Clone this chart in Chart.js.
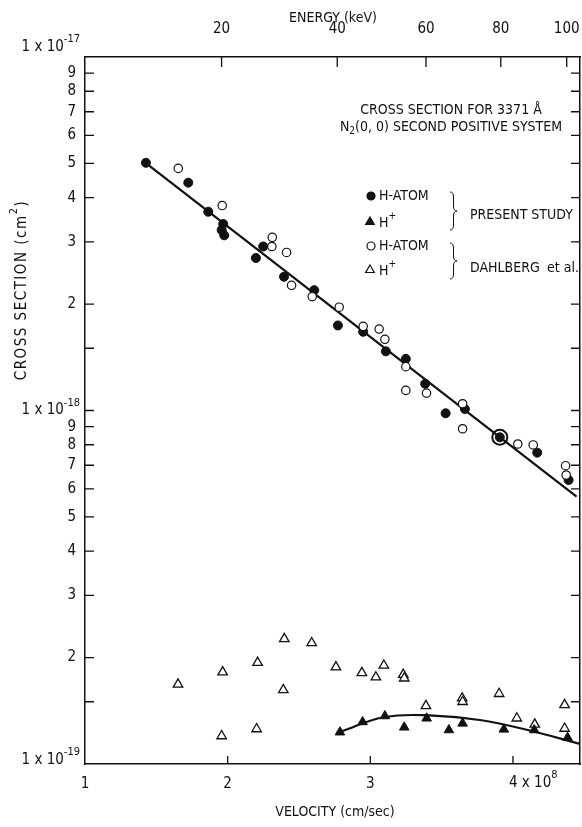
<!DOCTYPE html>
<html>
<head>
<meta charset="utf-8">
<script src="https://cdn.jsdelivr.net/npm/chart.js@4.4.0/dist/chart.umd.min.js"></script>
<style>
  html, body { margin: 0; padding: 0; background: #fff; }
  #wrap { width: 582px; height: 827px; position: relative; }
</style>
</head>
<body>
<div id="wrap"><canvas id="crossSectionChart"></canvas></div>
<script>
// velocity in units of 1e8 cm/sec, cross section in units of 1e-18 cm^2

// H-atom, present study (filled circles)
const hAtomPresentV = [1.427, 1.724, 1.864, 1.969, 1.958, 1.976, 2.249, 2.198, 2.395, 2.607,
                       2.773, 2.950, 3.109, 3.249, 3.385, 3.528, 3.663, 3.908, 4.170, 4.390];
const hAtomPresentSigma = [5.02, 4.41, 3.65, 3.37, 3.24, 3.13, 2.91, 2.70, 2.39, 2.19,
                           1.74, 1.67, 1.47, 1.40, 1.19, 0.982, 1.01, 0.840, 0.760, 0.636];

// H+, present study (filled triangles)
const hPlusPresentV = [2.787, 2.946, 3.102, 3.238, 3.395, 3.551, 3.647, 3.936, 4.149, 4.383];
const hPlusPresentSigma = [0.123, 0.1315, 0.1367, 0.127, 0.1347, 0.1248, 0.1303, 0.1253, 0.1248, 0.1187];

// H-atom, Dahlberg et al. (open circles)
const hAtomDahlV = [1.654, 1.962, 2.313, 2.310, 2.413, 2.448, 2.593, 2.782, 2.950, 3.062, 3.102,
                    3.249, 3.249, 3.394, 3.647, 3.647, 3.908, 4.034, 4.142, 4.369, 4.373];
const hAtomDahlSigma = [4.84, 3.80, 3.09, 2.91, 2.80, 2.26, 2.10, 1.96, 1.73, 1.70, 1.59,
                        1.33, 1.14, 1.12, 1.045, 0.888, 0.840, 0.804, 0.799, 0.698, 0.657];

// H+, Dahlberg et al. (open triangles)
const hPlusDahlV = [1.652, 1.965, 1.958, 2.210, 2.203, 2.397, 2.390, 2.589, 2.759, 2.941, 3.039,
                    3.095, 3.231, 3.238, 3.390, 3.644, 3.647, 3.903, 4.027, 4.153, 4.362, 4.362];
const hPlusDahlSigma = [0.168, 0.182, 0.120, 0.1935, 0.1256, 0.226, 0.162, 0.220, 0.188, 0.181, 0.176,
                        0.190, 0.179, 0.1748, 0.146, 0.1535, 0.150, 0.158, 0.1347, 0.1295, 0.147, 0.126];

// drawn fit curves
const hAtomFitV = [1.427, 4.446];
const hAtomFitSigma = [5.01, 0.5705];
const hPlusFitV = [2.787, 3.102, 3.439, 3.768, 4.118, 4.47];
const hPlusFitSigma = [0.1232, 0.1358, 0.1371, 0.1332, 0.1244, 0.114];

// axes
const velocityTicks = [1, 2, 3, 4];
const energyTicks = [20, 40, 60, 80, 100];   // keV, top axis
const sigmaTicks = [0.1, 0.15, 0.2, 0.3, 0.4, 0.5, 0.6, 0.7, 0.8, 0.9,
                    1, 1.5, 2, 3, 4, 5, 6, 7, 8, 9, 10];
const KEV_PER_V2 = 5.22;  // E(keV) = 5.22 * v^2 for hydrogen, v in 1e8 cm/s

const FONT = "'Liberation Sans Narrow', 'DejaVu Sans Condensed', sans-serif";
const INK = '#111';

function zip(xs, ys) {
    return xs.map((x, i) => ({ x: x, y: ys[i] }));
}

function font(size) {
    return size + 'px ' + FONT;
}

// text pieces: [text, mode] with mode 1 = superscript, -1 = subscript
function drawParts(ctx, parts, x, y, align, size) {
    const widths = parts.map(([t, m]) => {
        ctx.font = font(m ? Math.round(size * 0.72) : size);
        return ctx.measureText(t).width;
    });
    const total = widths.reduce((a, b) => a + b, 0);
    let cx = align === 'center' ? x - total / 2 : align === 'right' ? x - total : x;
    ctx.textAlign = 'left';
    ctx.textBaseline = 'middle';
    parts.forEach(([t, m], i) => {
        ctx.font = font(m ? Math.round(size * 0.72) : size);
        const dy = m === 1 ? -size * 0.5 : m === -1 ? size * 0.35 : 0;
        ctx.fillText(t, cx, y + dy);
        cx += widths[i];
    });
}

function brace(ctx, x, y1, y2, w) {
    const m = (y1 + y2) / 2, r = 5;
    ctx.beginPath();
    ctx.moveTo(x, y1);
    ctx.quadraticCurveTo(x + w / 2, y1, x + w / 2, y1 + r);
    ctx.lineTo(x + w / 2, m - r);
    ctx.quadraticCurveTo(x + w / 2, m, x + w, m);
    ctx.quadraticCurveTo(x + w / 2, m, x + w / 2, m + r);
    ctx.lineTo(x + w / 2, y2 - r);
    ctx.quadraticCurveTo(x + w / 2, y2, x, y2);
    ctx.stroke();
}

function marker(ctx, style, filled, x, y) {
    ctx.beginPath();
    if (style === 'circle') {
        ctx.arc(x, y, 4, 0, Math.PI * 2);
    } else {
        const r = 5;
        ctx.moveTo(x, y - r);
        ctx.lineTo(x + r * 0.866, y + r * 0.5);
        ctx.lineTo(x - r * 0.866, y + r * 0.5);
        ctx.closePath();
    }
    ctx.fillStyle = filled ? INK : '#fff';
    ctx.fill();
    ctx.lineWidth = 1.2;
    ctx.strokeStyle = INK;
    ctx.stroke();
}

const inwardTicks = {
    id: 'inwardTicks',
    afterDraw(chart) {
        const { ctx, chartArea: a, scales } = chart;
        ctx.save();
        ctx.strokeStyle = INK;
        ctx.lineWidth = 1.3;
        ctx.beginPath();
        scales.x.ticks.forEach(t => {
            const px = scales.x.getPixelForValue(t.value);
            if (px <= a.left + 1) return;
            ctx.moveTo(px, a.bottom);
            ctx.lineTo(px, a.bottom - 8);
        });
        scales.xTop.ticks.forEach(t => {
            const px = scales.xTop.getPixelForValue(t.value);
            ctx.moveTo(px, a.top);
            ctx.lineTo(px, a.top + 10);
        });
        ['y', 'yRight'].forEach(id => {
            const s = scales[id];
            s.ticks.forEach(t => {
                const py = s.getPixelForValue(t.value);
                if (py <= a.top + 1 || py >= a.bottom - 1) return;
                const x0 = id === 'y' ? a.left : a.right;
                const dir = id === 'y' ? 1 : -1;
                ctx.moveTo(x0, py);
                ctx.lineTo(x0 + dir * 9, py);
            });
        });
        ctx.stroke();
        ctx.restore();
    }
};

const annotations = {
    id: 'annotations',
    afterDraw(chart) {
        const { ctx, scales } = chart;
        ctx.save();
        ctx.fillStyle = INK;
        ctx.strokeStyle = INK;

        // axis titles
        drawParts(ctx, [['ENERGY (keV)', 0]], 333, 18, 'center', 14);
        drawParts(ctx, [['VELOCITY (cm/sec)', 0]], 335, 812, 'center', 14);
        ctx.save();
        ctx.translate(22, 290);
        ctx.rotate(-Math.PI / 2);
        if ('letterSpacing' in ctx) ctx.letterSpacing = '1.5px';
        drawParts(ctx, [['CROSS SECTION (cm', 0], ['2', 1], [')', 0]], 0, 0, 'center', 15);
        ctx.restore();

        // decade labels on the cross section axis
        [[10, '-17', -10], [1, '-18', 0], [0.1, '-19', -4]].forEach(([v, exp, dy]) => {
            const py = scales.y.getPixelForValue(v) + dy;
            drawParts(ctx, [['1 x 10', 0], [exp, 1]], 80, py, 'right', 15);
        });
        // last velocity label
        drawParts(ctx, [['4 x 10', 0], ['8', 1]], scales.x.getPixelForValue(4) - 4, 783, 'left', 15);

        // title block
        drawParts(ctx, [['CROSS SECTION FOR 3371 Å', 0]], 451, 110, 'center', 14);
        drawParts(ctx, [['N', 0], ['2', -1], ['(0, 0) SECOND POSITIVE SYSTEM', 0]], 451, 127, 'center', 14);

        // legend
        marker(ctx, 'circle', true, 371, 196);
        marker(ctx, 'triangle', true, 370, 222);
        marker(ctx, 'circle', false, 371, 246);
        marker(ctx, 'triangle', false, 370, 270);
        ctx.fillStyle = INK;
        drawParts(ctx, [['H-ATOM', 0]], 379, 196, 'left', 14);
        drawParts(ctx, [['H', 0], ['+', 1]], 379, 223, 'left', 14);
        drawParts(ctx, [['H-ATOM', 0]], 379, 246, 'left', 14);
        drawParts(ctx, [['H', 0], ['+', 1]], 379, 271, 'left', 14);
        ctx.lineWidth = 1;
        brace(ctx, 450, 192, 230, 7);
        brace(ctx, 450, 243, 279, 7);
        drawParts(ctx, [['PRESENT STUDY', 0]], 470, 215, 'left', 14);
        drawParts(ctx, [['DAHLBERG', 0]], 470, 268, 'left', 14);
        drawParts(ctx, [['et al.', 0]], 547, 268, 'left', 14);
        ctx.restore();
    }
};

function zeroPad(s) {
    s.paddingLeft = 0;
    s.paddingRight = 0;
    s.paddingTop = 0;
    s.paddingBottom = 0;
}

function createCrossSectionChart() {
    const ctx = document.getElementById('crossSectionChart').getContext('2d');
    Chart.defaults.font.family = FONT;
    Chart.defaults.font.size = 15;
    Chart.defaults.color = INK;

    const border = { display: true, color: INK, width: 1.5 };
    const noGrid = { display: true, drawOnChartArea: false, drawTicks: false };

    new Chart(ctx, {
        type: 'scatter',
        data: {
            datasets: [{
                label: 'H-ATOM (present study)',
                data: zip(hAtomPresentV, hAtomPresentSigma),
                pointStyle: 'circle',
                pointRadius: 4.5,
                backgroundColor: INK,
                borderColor: INK,
                borderWidth: 1,
                order: 1,
            }, {
                label: 'H+ (present study)',
                data: zip(hPlusPresentV, hPlusPresentSigma),
                pointStyle: 'triangle',
                pointRadius: 5.5,
                backgroundColor: INK,
                borderColor: INK,
                borderWidth: 1,
                order: 1,
            }, {
                label: 'H-ATOM (Dahlberg et al.)',
                data: zip(hAtomDahlV, hAtomDahlSigma),
                pointStyle: 'circle',
                pointRadius: c => (c.dataIndex === 16 ? 7.5 : 4.2),
                backgroundColor: c => (c.dataIndex === 16 ? 'rgba(0,0,0,0)' : '#fff'),
                borderColor: INK,
                borderWidth: c => (c.dataIndex === 16 ? 2 : 1.2),
                order: 0,
            }, {
                label: 'H+ (Dahlberg et al.)',
                data: zip(hPlusDahlV, hPlusDahlSigma),
                pointStyle: 'triangle',
                pointRadius: 5.5,
                backgroundColor: '#fff',
                borderColor: INK,
                borderWidth: 1.3,
                order: 2,
            }, {
                label: 'H-ATOM fit',
                data: zip(hAtomFitV, hAtomFitSigma),
                showLine: true,
                pointRadius: 0,
                borderColor: INK,
                borderWidth: 2.2,
                order: 3,
            }, {
                label: 'H+ fit',
                data: zip(hPlusFitV, hPlusFitSigma),
                showLine: true,
                tension: 0.4,
                pointRadius: 0,
                borderColor: INK,
                borderWidth: 2.2,
                order: 3,
            }]
        },
        options: {
            responsive: true,
            maintainAspectRatio: false,
            animation: false,
            events: [],
            layout: { padding: 0, autoPadding: false },
            plugins: {
                legend: { display: false },
                tooltip: { enabled: false },
            },
            scales: {
                x: {
                    type: 'linear',
                    position: 'bottom',
                    min: 1,
                    max: 4.47,
                    bounds: 'data',
                    grid: noGrid,
                    border: border,
                    afterBuildTicks: s => { s.ticks = velocityTicks.map(v => ({ value: v })); },
                    afterFit: s => { s.height = 63; zeroPad(s); },
                    ticks: {
                        padding: 11,
                        maxRotation: 0,
                        autoSkip: false,
                        callback: v => (v === 4 ? '' : String(v)),
                    },
                },
                xTop: {
                    type: 'linear',
                    position: 'top',
                    min: 1,
                    max: 4.47,
                    bounds: 'data',
                    grid: noGrid,
                    border: border,
                    afterBuildTicks: s => {
                        s.ticks = energyTicks.map(e => ({ value: Math.sqrt(e / KEV_PER_V2) }));
                    },
                    afterFit: s => { s.height = 57; zeroPad(s); },
                    ticks: {
                        padding: 19,
                        maxRotation: 0,
                        autoSkip: false,
                        callback: (v, i) => String(energyTicks[i]),
                    },
                },
                y: {
                    type: 'logarithmic',
                    position: 'left',
                    min: 0.1,
                    max: 10,
                    bounds: 'data',
                    grid: noGrid,
                    border: border,
                    afterBuildTicks: s => { s.ticks = sigmaTicks.map(v => ({ value: v })); },
                    afterFit: s => { s.width = 85; zeroPad(s); },
                    ticks: {
                        padding: 9,
                        autoSkip: false,
                        callback: v => {
                            const m = v / Math.pow(10, Math.floor(Math.log10(v) + 1e-9));
                            const r = Math.round(m * 10) / 10;
                            if (r === 1 || r === 1.5) return '';
                            return String(Math.round(r));
                        },
                    },
                },
                yRight: {
                    type: 'logarithmic',
                    position: 'right',
                    min: 0.1,
                    max: 10,
                    bounds: 'data',
                    grid: noGrid,
                    border: border,
                    afterBuildTicks: s => { s.ticks = sigmaTicks.map(v => ({ value: v })); },
                    afterFit: s => { s.width = 2; zeroPad(s); },
                    ticks: { display: false },
                },
            },
        },
        plugins: [inwardTicks, annotations],
    });
}

document.addEventListener('DOMContentLoaded', () => {
    createCrossSectionChart();
});
</script>
</body>
</html>
